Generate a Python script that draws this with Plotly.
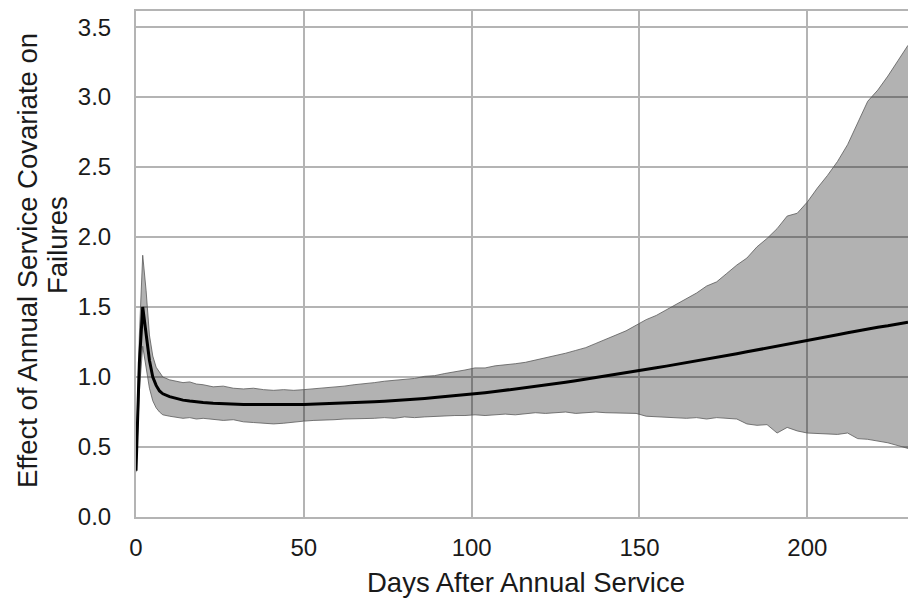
import plotly.graph_objects as go

days = [0, 1, 2, 3, 4, 5, 6, 7, 8, 10, 12, 14, 16, 18, 20,
        23, 26, 29, 32, 35, 38, 41, 44, 47, 50, 53, 56, 59, 62, 65, 68, 71, 74, 77, 80,
        83, 86, 89, 92, 95, 98, 101, 104, 107, 110, 113, 116, 119, 122, 125, 128, 131,
        134, 137, 140, 143, 146, 149, 152, 155, 158, 161, 164, 167, 170, 173, 176, 179,
        182, 185, 188, 191, 194, 197, 200, 203, 206, 209, 212, 215, 218, 221, 224, 227, 230]

effect_mean = [0.33, 1.10, 1.50, 1.32, 1.12, 1.00, 0.94, 0.90, 0.88, 0.86, 0.845, 0.835, 0.828, 0.822, 0.818,
               0.813, 0.809, 0.806, 0.804, 0.803, 0.802, 0.802, 0.802, 0.803, 0.804, 0.806, 0.808, 0.810, 0.813, 0.816,
               0.819, 0.823, 0.827, 0.831, 0.836, 0.841, 0.847, 0.853, 0.859, 0.866, 0.873, 0.880, 0.888, 0.896,
               0.905, 0.914, 0.923, 0.932, 0.942, 0.952, 0.962, 0.973, 0.984, 0.995, 1.006, 1.018, 1.030, 1.042,
               1.054, 1.066, 1.078, 1.090, 1.102, 1.115, 1.128, 1.141, 1.154, 1.167, 1.180, 1.193, 1.206, 1.219,
               1.232, 1.246, 1.260, 1.274, 1.288, 1.302, 1.316, 1.330, 1.344, 1.356, 1.366, 1.377, 1.392]

effect_upper = [0.35, 1.30, 1.87, 1.62, 1.30, 1.15, 1.07, 1.03, 1.00, 0.98, 0.97, 0.96, 0.965, 0.95, 0.945,
                0.93, 0.935, 0.92, 0.915, 0.92, 0.91, 0.905, 0.91, 0.905, 0.91, 0.915, 0.92, 0.93, 0.935, 0.945,
                0.95, 0.96, 0.97, 0.975, 0.985, 0.99, 1.005, 1.01, 1.025, 1.035, 1.05, 1.065, 1.065, 1.08,
                1.085, 1.095, 1.105, 1.12, 1.135, 1.15, 1.17, 1.19, 1.21, 1.24, 1.27, 1.30, 1.33, 1.37,
                1.41, 1.44, 1.48, 1.52, 1.56, 1.60, 1.65, 1.68, 1.74, 1.80, 1.85, 1.93, 1.99, 2.06,
                2.15, 2.17, 2.25, 2.35, 2.44, 2.54, 2.66, 2.82, 2.97, 3.05, 3.15, 3.26, 3.37]

effect_lower = [0.32, 0.90, 1.22, 1.08, 0.92, 0.83, 0.78, 0.75, 0.73, 0.72, 0.71, 0.705, 0.71, 0.70, 0.705,
                0.70, 0.69, 0.695, 0.68, 0.675, 0.67, 0.665, 0.67, 0.68, 0.685, 0.69, 0.69, 0.695, 0.70, 0.70,
                0.705, 0.705, 0.71, 0.705, 0.715, 0.71, 0.715, 0.72, 0.72, 0.725, 0.725, 0.73, 0.725, 0.73,
                0.735, 0.73, 0.74, 0.745, 0.74, 0.745, 0.75, 0.74, 0.745, 0.75, 0.745, 0.745, 0.74, 0.74,
                0.72, 0.715, 0.71, 0.71, 0.705, 0.71, 0.70, 0.71, 0.705, 0.70, 0.665, 0.655, 0.66, 0.60,
                0.64, 0.615, 0.60, 0.595, 0.595, 0.59, 0.60, 0.56, 0.555, 0.545, 0.53, 0.51, 0.49]

x_ticks = [0, 50, 100, 150, 200]
y_ticks = [0.0, 0.5, 1.0, 1.5, 2.0, 2.5, 3.0, 3.5]

x_title = "Days After Annual Service"
y_title_lines = ["Effect of Annual Service Covariate on", "Failures"]

FONT = "Liberation Sans, Arial, sans-serif"
TXT = "#1a1a1a"
TICK_SIZE = 24
TITLE_SIZE = 27.5

band_line = dict(color="rgba(90,90,90,0.8)", width=1)

fig = go.Figure()
fig.add_trace(go.Scatter(x=days, y=effect_upper, mode="lines", line=band_line,
                         showlegend=False, hoverinfo="skip"))
fig.add_trace(go.Scatter(x=days, y=effect_lower, mode="lines", line=band_line,
                         fill="tonexty", fillcolor="rgba(0,0,0,0.3)",
                         showlegend=False, hoverinfo="skip"))
fig.add_trace(go.Scatter(x=days, y=effect_mean, mode="lines",
                         line=dict(color="black", width=3), showlegend=False))

axis_common = dict(showgrid=True, gridcolor="#b4b4b4", gridwidth=2,
                   showline=True, linecolor="#b4b4b4", linewidth=2, mirror=True,
                   zeroline=False, ticks="", automargin=False, layer="below traces",
                   tickfont=dict(family=FONT, size=TICK_SIZE, color=TXT))

L, R, T, B = 136, 0, 11, 83
W, H = 908, 600
pw, ph = W - L - R, H - T - B

title_font = dict(family=FONT, size=TITLE_SIZE, color=TXT)

fig.update_layout(
    width=W, height=H,
    margin=dict(l=L, r=R, t=T, b=B, pad=0),
    plot_bgcolor="white", paper_bgcolor="white",
    font=dict(family=FONT, size=TICK_SIZE, color=TXT),
    xaxis=dict(range=[0, 230], tickvals=x_ticks, ticktext=[str(v) for v in x_ticks],
               ticklabelstandoff=8, **axis_common),
    yaxis=dict(range=[0, 3.615], tickvals=y_ticks, ticktext=[f"{v:.1f}" for v in y_ticks],
               ticklabelstandoff=18, **axis_common),
    annotations=[
        dict(text=x_title, xref="paper", yref="paper",
             x=(526 - L) / pw, y=(H - B - 582) / ph, xanchor="center", yanchor="middle",
             showarrow=False, font=title_font),
        dict(text=y_title_lines[0], xref="paper", yref="paper", textangle=-90,
             x=(27 - L) / pw, y=(H - B - 261) / ph, xanchor="center", yanchor="middle",
             showarrow=False, font=title_font),
        dict(text=y_title_lines[1], xref="paper", yref="paper", textangle=-90,
             x=(57 - L) / pw, y=(H - B - 245) / ph, xanchor="center", yanchor="middle",
             showarrow=False, font=title_font),
    ],
)

fig.write_html("out.html", config={"displayModeBar": False},
               post_script="document.body.style.margin='0';document.body.style.overflow='hidden';")
